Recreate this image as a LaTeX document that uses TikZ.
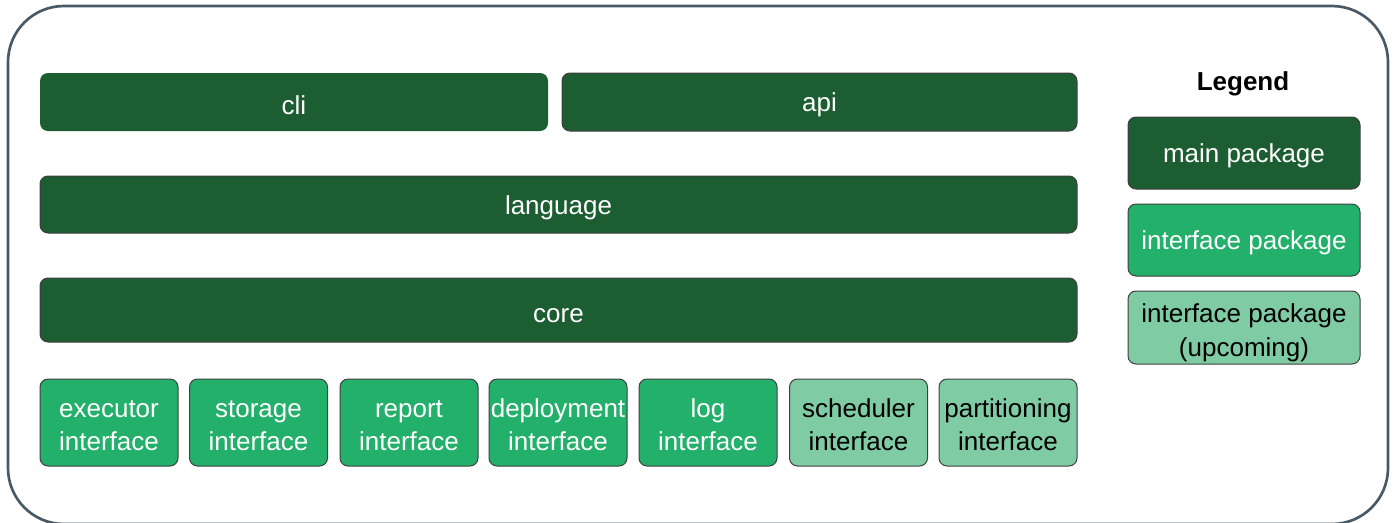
\documentclass[tikz,border=0pt]{standalone}
\usepackage{fontspec}
\setmainfont{Liberation Sans}
\definecolor{maing}{HTML}{1C5E32}
\definecolor{intg}{HTML}{22B06A}
\definecolor{upg}{HTML}{7FCBA4}
\definecolor{framec}{HTML}{4A5966}
\newcommand\lowstrut[1]{\rule{0pt}{#1}}
\begin{document}
\begin{tikzpicture}[x=0.75pt,y=-0.75pt,
  box/.style={rounded corners=6pt, inner sep=0pt, align=center, draw=black!75, line width=0.75pt,
    font=\fontsize{19.5}{24.75}\selectfont, execute at begin node={\rule{0pt}{0.95em}}},
  mainbox/.style={box, fill=maing, text=white},
  intbox/.style={box, fill=intg, text=white, minimum width=103.5pt, minimum height=65.25pt},
  upbox/.style={box, fill=upg, text=black, minimum width=103.5pt, minimum height=65.25pt},
  legbox/.style={minimum width=174pt}]
\useasboundingbox (0,0) rectangle (1396,522);
\draw[framec, line width=2pt, rounded corners=42pt] (8,6) rectangle (1388,524);
\node[mainbox, draw=none, minimum width=381pt, minimum height=43.5pt] (cli) at (294,102) {cli};
\node[mainbox, minimum width=386.25pt, minimum height=43.5pt] (api) at (819.5,102) {api};
\node[mainbox, minimum width=777.75pt, minimum height=42.75pt] (language) at (558.5,204.5) {language};
\node[mainbox, minimum width=777.75pt, minimum height=48pt] (core) at (558.5,310) {core};
\node[intbox] (executor) at (109,422.5) {\lowstrut{0.92em}executor\\interface};
\node[intbox] (storage) at (258.5,422.5) {\lowstrut{0.92em}storage\\interface};
\node[intbox] (report) at (409,422.5) {\lowstrut{0.92em}report\\interface};
\node[intbox] (deployment) at (558,422.5) {\lowstrut{0.92em}deployment\\interface};
\node[intbox] (log) at (708,422.5) {\lowstrut{0.92em}log\\interface};
\node[upbox] (scheduler) at (858.5,422.5) {\lowstrut{0.92em}scheduler\\interface};
\node[upbox] (partitioning) at (1008,422.5) {\lowstrut{0.92em}partitioning\\interface};
\node[font=\fontsize{19.5}{24}\selectfont\bfseries] (legend) at (1243,83.5) {Legend};
\node[mainbox, legbox, minimum height=54pt] (lmain) at (1244,153) {main package};
\node[intbox, legbox, minimum height=54pt] (lint) at (1244,240) {interface package};
\node[upbox, legbox, minimum height=54.75pt] (lup) at (1244,327.5) {\lowstrut{1.13em}interface package\\(upcoming)};
\end{tikzpicture}
\end{document}
